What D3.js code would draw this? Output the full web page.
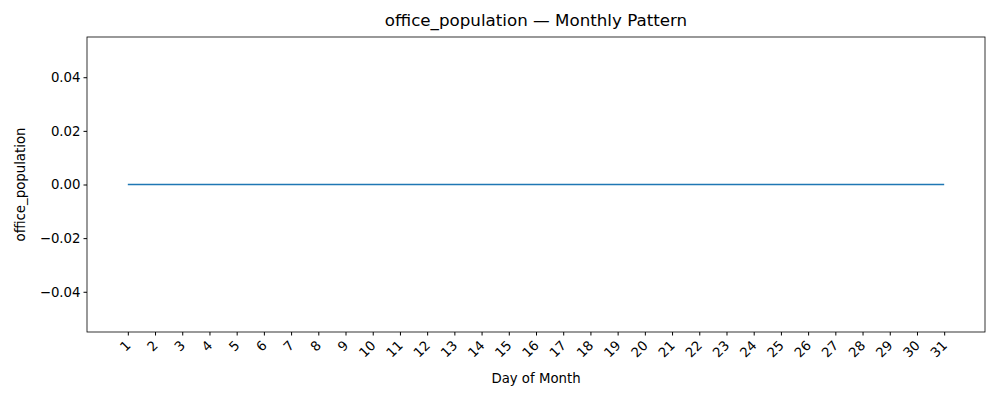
<!DOCTYPE html>
<html><head><meta charset="utf-8">
<script src="https://d3js.org/d3.v7.min.js"></script>
<style>body{margin:0;background:#fff}text{font-family:"DejaVu Sans",sans-serif}</style>
</head><body><div id="chart"></div>
<script>
// Data
const days = d3.range(1, 32);
const values = days.map(() => 0);
const yTicks = [-0.04, -0.02, 0, 0.02, 0.04];

const width = 1000, height = 400;
const margin = { top: 37, right: 15, bottom: 68, left: 87 };

const svg = d3.select("#chart").append("svg")
    .attr("width", width).attr("height", height);

const x = d3.scaleLinear().domain([-0.5, 32.5]).range([margin.left, width - margin.right]);
const y = d3.scaleLinear().domain([-0.055, 0.055]).range([height - margin.bottom, margin.top]);

// X axis
const xAxis = svg.append("g")
    .attr("transform", `translate(0,${height - margin.bottom})`)
    .call(d3.axisBottom(x).tickValues(days).tickFormat(d3.format("d")).tickSize(3.5).tickSizeOuter(0));
xAxis.selectAll("text")
    .attr("font-size", 13.3)
    .attr("fill", "#000")
    .attr("text-anchor", "end")
    .attr("x", 0).attr("y", 0)
    .attr("dy", "0.35em")
    .attr("transform", "translate(0,11) rotate(-45)");

// Y axis
const yAxis = svg.append("g")
    .attr("transform", `translate(${margin.left},0)`)
    .call(d3.axisLeft(y).tickValues(yTicks).tickFormat(d => d3.format(".2f")(d).replace("-", "\u2212")).tickSize(3.5).tickSizeOuter(0));
yAxis.selectAll("text").attr("font-size", 13.3).attr("fill", "#000");

// Frame
svg.append("rect")
    .attr("x", margin.left).attr("y", margin.top)
    .attr("width", width - margin.left - margin.right)
    .attr("height", height - margin.top - margin.bottom)
    .attr("fill", "none").attr("stroke", "#000").attr("stroke-width", 0.8);
svg.selectAll(".domain").remove();

// Line
svg.append("path")
    .datum(days.map((d, i) => [d, values[i]]))
    .attr("fill", "none").attr("stroke", "#1f77b4").attr("stroke-width", 1.5)
    .attr("d", d3.line().x(d => x(d[0])).y(d => y(d[1])));

// Labels
svg.append("text").attr("x", (margin.left + width - margin.right) / 2).attr("y", 26)
    .attr("text-anchor", "middle").attr("font-size", 16.7)
    .text("office_population \u2014 Monthly Pattern");
svg.append("text").attr("x", (margin.left + width - margin.right) / 2).attr("y", 383)
    .attr("text-anchor", "middle").attr("font-size", 13.3).text("Day of Month");
svg.append("text").attr("transform", `translate(25,${(margin.top + height - margin.bottom) / 2}) rotate(-90)`)
    .attr("text-anchor", "middle").attr("font-size", 13.3).text("office_population");
</script></body></html>
